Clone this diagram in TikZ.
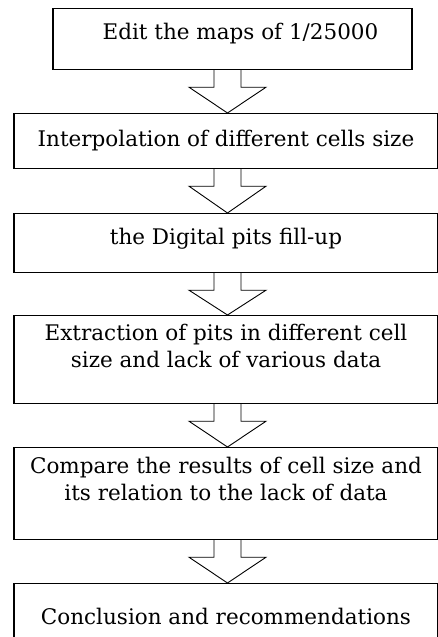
\documentclass[tikz,border=0pt]{standalone}
\usepackage{fontspec}
\setmainfont{DejaVu Serif}
\usetikzlibrary{positioning,calc}

\tikzset{
  stepbox/.style={draw, line width=1.2pt, inner xsep=0pt, inner ysep=0pt,
    align=center, anchor=north, font=\fontsize{21.5}{27}\selectfont},
  blockarrow/.style={draw, line width=0.9pt, line join=miter}
}

\begin{document}
\begin{tikzpicture}[x=1pt,y=-1pt]
  % page frame
  \useasboundingbox (0,0) rectangle (437,637);
  \coordinate (axis) at (227.5,0);

  % steps
  \node[stepbox, minimum width=359pt, text height=31pt, text depth=30pt] (edit) at (232.5,8) {\hspace*{16pt}Edit the maps of 1/25000};
  \node[stepbox, minimum width=424pt, text height=33pt, text depth=22pt] (interp) at (226,113) {Interpolation of different cells size};
  \node[stepbox, minimum width=424pt, text height=31pt, text depth=28pt] (fill) at (226,213) {the Digital pits fill-up};
  \node[stepbox, minimum width=424pt, text height=52pt, text depth=36pt] (extract) at (226,315) {Extraction of pits in different cell\\size and lack of various data};
  \node[stepbox, minimum width=424pt, text height=53pt, text depth=39pt] (compare) at (226,447) {Compare the results of cell size and\\its relation to the lack of data};
  \node[stepbox, minimum width=424pt, text height=41pt, text depth=26pt] (concl) at (226,583) {Conclusion and recommendations};

  % block arrows between steps
  \foreach \a/\b in {edit/interp, interp/fill, fill/extract, extract/compare, compare/concl}{
    \coordinate (top) at (\a.south -| axis);
    \coordinate (tip) at (\b.north -| axis);
    \draw[blockarrow] ($(top)+(-13.5,0)$) -- ++(0,17) -- ++(-25,0) -- (tip)
      -- ($(top)+(38.5,17)$) -- ++(-25,0) -- ++(0,-17);
  }
\end{tikzpicture}
\end{document}
